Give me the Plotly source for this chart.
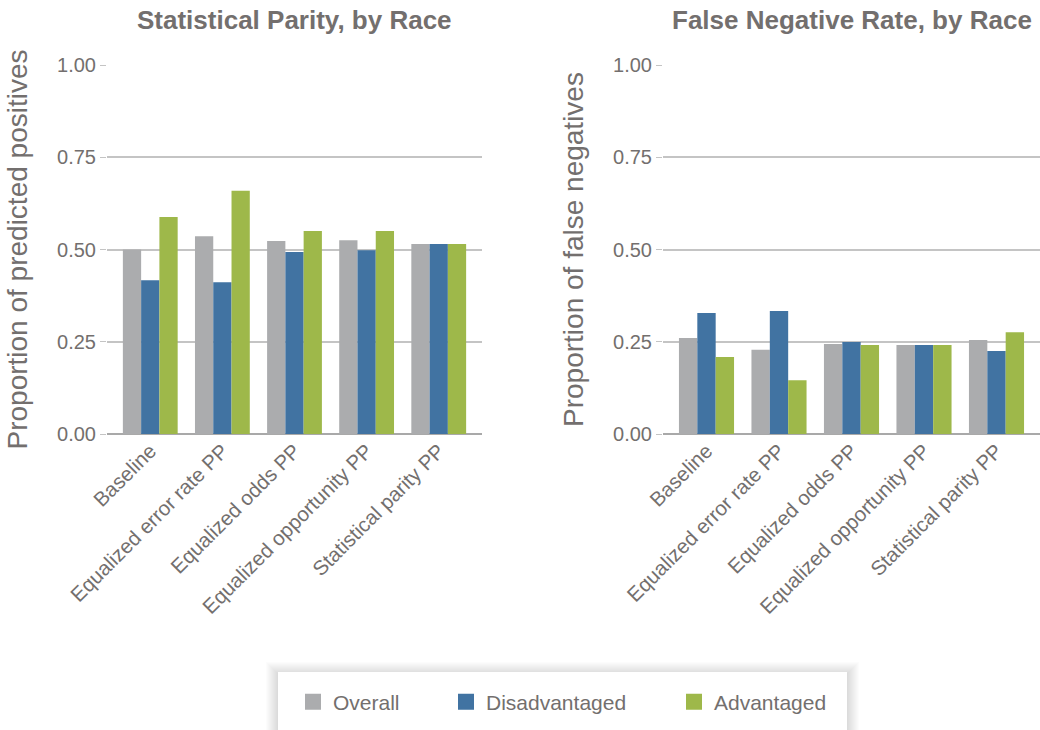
import plotly.graph_objects as go

# Post-processing methods compared in both panels
methods = ["Baseline", "Equalized error rate PP", "Equalized odds PP",
           "Equalized opportunity PP", "Statistical parity PP"]

# Proportion of predicted positives
sp_overall = [0.500, 0.536, 0.523, 0.525, 0.515]
sp_disadv = [0.417, 0.411, 0.493, 0.498, 0.515]
sp_adv = [0.588, 0.659, 0.550, 0.550, 0.515]

# Proportion of false negatives
fnr_overall = [0.260, 0.228, 0.244, 0.241, 0.255]
fnr_disadv = [0.328, 0.333, 0.249, 0.241, 0.225]
fnr_adv = [0.209, 0.146, 0.241, 0.241, 0.276]

group_names = ["Overall", "Disadvantaged", "Advantaged"]
group_colors = ["#ABACAE", "#4173A2", "#9EB84A"]
tick_vals = [0, 0.25, 0.5, 0.75, 1.0]
tick_text = ["0.00", "0.25", "0.50", "0.75", "1.00"]

TEXT = "#736f6e"
FONT = "Liberation Sans, Arial, sans-serif"
W, H = 1040, 730
TOP, BOTTOM = 65, 434  # plot area in pixels

fig = go.Figure()

legends = ["legend", "legend2", "legend3"]
left_series = [sp_overall, sp_disadv, sp_adv]
right_series = [fnr_overall, fnr_disadv, fnr_adv]
for i, name in enumerate(group_names):
    fig.add_trace(go.Bar(x=methods, y=left_series[i], name=name,
                         marker=dict(color=group_colors[i], line=dict(width=0)),
                         xaxis="x", yaxis="y", legendgroup=name,
                         showlegend=False))
    fig.add_trace(go.Bar(x=methods, y=right_series[i], name=name,
                         marker=dict(color=group_colors[i], line=dict(width=0)),
                         xaxis="x2", yaxis="y2", legendgroup=name,
                         showlegend=False))
    # legend key: a filled square swatch for each group
    fig.add_trace(go.Scatter(x=[None], y=[None], mode="markers", name=name,
                             marker=dict(symbol="square", size=20,
                                         color=group_colors[i],
                                         line=dict(width=0)),
                             xaxis="x", yaxis="y", legendgroup=name,
                             legend=legends[i], showlegend=True,
                             hoverinfo="skip"))

px = lambda v: v / W
py = lambda v: (BOTTOM - v) / (BOTTOM - TOP)

xaxis_common = dict(type="category", range=[-0.6, 4.6],
                    showgrid=False, showline=False,
                    ticks="", tickangle=-45, automargin=False,
                    tickfont=dict(size=20.5, color=TEXT, family=FONT))
yaxis_common = dict(range=[0, 1.0], tickvals=tick_vals, ticktext=tick_text,
                    showgrid=True, gridcolor="#c4c4c4", gridwidth=1.5,
                    zeroline=True, zerolinecolor="#a9a9a9", zerolinewidth=1.5,
                    ticks="outside", ticklen=6, tickcolor="#c4c4c4",
                    tickfont=dict(size=20, color=TEXT, family=FONT),
                    showline=False, automargin=False)

legend_common = dict(orientation="h", yanchor="middle", xanchor="left",
                     y=py(702), bgcolor="rgba(0,0,0,0)",
                     itemsizing="trace",
                     font=dict(size=21, color=TEXT, family=FONT),
                     itemclick=False, itemdoubleclick=False)

shapes = []
# soft drop shadow behind the legend box
bx0, bx1, by0, by1 = 278, 847, 672, 745
for k in range(12, 0, -1):
    shapes.append(dict(type="rect", xref="paper", yref="paper", layer="above",
                       x0=px(bx0 - k), x1=px(bx1 + k),
                       y0=py(by1 + k), y1=py(by0 - k + 2),
                       fillcolor="rgba(0,0,0,0.013)", line=dict(width=0)))
shapes.append(dict(type="rect", xref="paper", yref="paper", layer="above",
                   x0=px(bx0), x1=px(bx1), y0=py(by1), y1=py(by0),
                   fillcolor="white", line=dict(width=0)))

axis_title_font = dict(size=28, color=TEXT, family=FONT)
title_font = dict(size=26, color=TEXT, family=FONT)

fig.update_layout(
    width=W, height=H,
    margin=dict(l=0, r=0, t=TOP, b=H - BOTTOM),
    paper_bgcolor="white", plot_bgcolor="white",
    barmode="group", bargap=0.24, bargroupgap=0,
    font=dict(family=FONT, color=TEXT),
    xaxis=dict(domain=[px(107), px(482)], anchor="y", **xaxis_common),
    xaxis2=dict(domain=[px(663), px(1040)], anchor="y2", **xaxis_common),
    yaxis=dict(anchor="x", title=dict(text="Proportion of predicted positives",
                                      font=axis_title_font, standoff=21),
               **yaxis_common),
    yaxis2=dict(anchor="x2", title=dict(text="Proportion of false negatives",
                                        font=axis_title_font, standoff=21),
                **yaxis_common),
    legend=dict(x=px(293), **legend_common),
    legend2=dict(x=px(446), **legend_common),
    legend3=dict(x=px(674), **legend_common),
    shapes=shapes,
    annotations=[
        dict(text="<b>Statistical Parity, by Race</b>", xref="paper", yref="paper",
             x=px(294.5), y=py(20), xanchor="center", yanchor="middle",
             showarrow=False, font=title_font),
        dict(text="<b>False Negative Rate, by Race</b>", xref="paper", yref="paper",
             x=px(852), y=py(20), xanchor="center", yanchor="middle",
             showarrow=False, font=title_font),
    ],
)

fig.write_html("out.html")
